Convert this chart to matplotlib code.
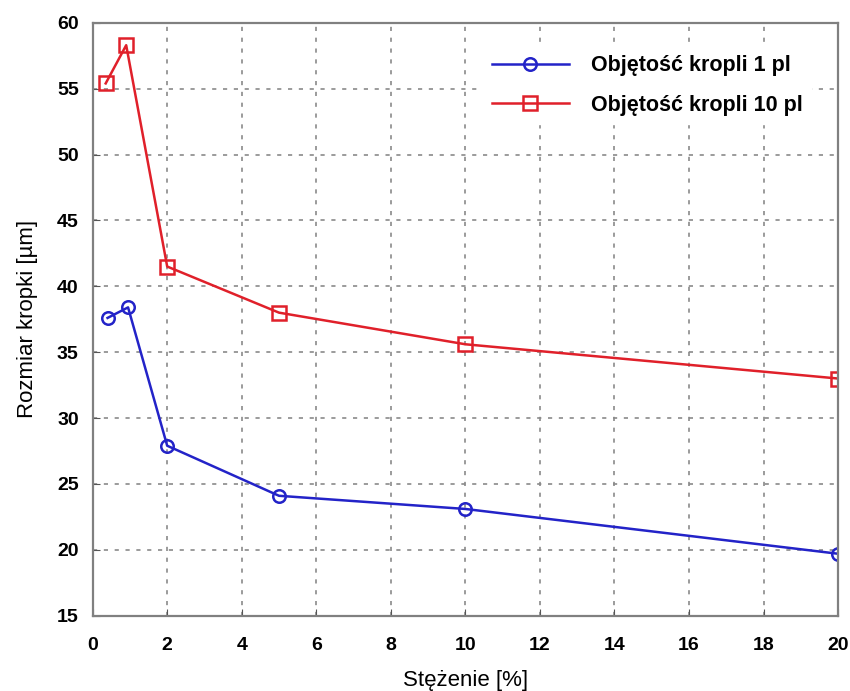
import matplotlib
matplotlib.use("Agg")
import matplotlib.pyplot as plt

# concentration [%] and dot size [um]
stezenie_1pl = [0.4, 0.95, 2, 5, 10, 20]
rozmiar_1pl = [37.6, 38.4, 27.9, 24.1, 23.1, 19.7]
stezenie_10pl = [0.35, 0.9, 2, 5, 10, 20]
rozmiar_10pl = [55.4, 58.3, 41.5, 38.0, 35.6, 33.0]

x_ticks = [0, 2, 4, 6, 8, 10, 12, 14, 16, 18, 20]
y_ticks = [15, 20, 25, 30, 35, 40, 45, 50, 55, 60]

plt.rcParams["font.family"] = ["Liberation Sans", "DejaVu Sans"]

fig = plt.figure(figsize=(8.5, 6.91), dpi=100)
ax = fig.add_axes([0.109, 0.109, 0.877, 0.858])

ax.plot(stezenie_1pl, rozmiar_1pl, color="#2323c8", lw=1.8, marker="o",
        markersize=9, markerfacecolor="none", markeredgewidth=1.8,
        label="Objętość kropli 1 pl")
ax.plot(stezenie_10pl, rozmiar_10pl, color="#e0202a", lw=1.8, marker="s",
        markersize=10, markerfacecolor="none", markeredgewidth=1.8,
        label="Objętość kropli 10 pl")

ax.set_xlim(0, 20)
ax.set_ylim(15, 60)
ax.set_xticks(x_ticks)
ax.set_yticks(y_ticks)
ax.set_xticklabels([str(t) for t in x_ticks], fontsize=14, fontweight="bold")
ax.set_yticklabels([str(t) for t in y_ticks], fontsize=14, fontweight="bold")
ax.tick_params(direction="in", length=5, color="#555555", pad=15)
ax.tick_params(axis="y", pad=10)
ax.grid(True, color="#8a8a8a", linestyle=(0, (2.5, 4)), linewidth=1.2)

for s in ax.spines.values():
    s.set_color("#808080")
    s.set_linewidth(1.6)

ax.set_xlabel("Stężenie [%]", fontsize=16, labelpad=12)
ax.set_ylabel("Rozmiar kropki [µm]", fontsize=16, labelpad=14)

leg = ax.legend(loc="upper right", bbox_to_anchor=(0.978, 0.978), fontsize=15.5,
                handlelength=3.6, frameon=True, fancybox=False,
                edgecolor="white", framealpha=1, borderpad=0.4,
                labelspacing=0.85, handletextpad=1.0)
for t in leg.get_texts():
    t.set_fontweight("bold")

fig.savefig("out.png", dpi=100)
